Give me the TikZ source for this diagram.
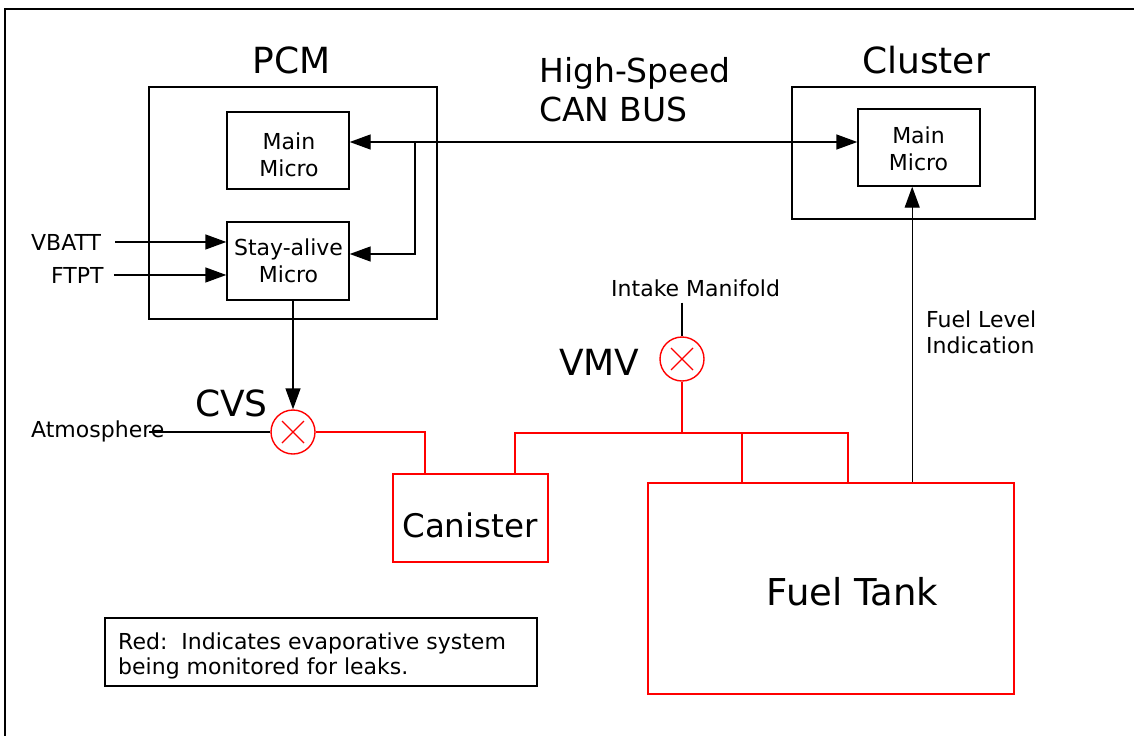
\documentclass[tikz,border=0pt]{standalone}
\usepackage{fontspec}
\setmainfont{DejaVu Sans}
\usetikzlibrary{arrows.meta,calc}
\begin{document}
\begin{tikzpicture}[x=1pt,y=-1pt,
  blk/.style={draw=black,line width=1.4pt},
  redl/.style={draw=red,line width=1.6pt},
  arr/.style={blk,-{Triangle[length=21pt,width=15pt]}},
  box/.style={draw=black,line width=1.4pt,inner sep=0pt,rectangle},
  rbox/.style={draw=red,line width=1.6pt,inner sep=0pt,rectangle},
  valve/.style={circle,draw=red,line width=1.4pt,minimum size=44pt,inner sep=0pt},
  txt/.style={inner sep=0pt,font=\fontsize{22}{27}\selectfont},
  big/.style={inner sep=0pt,font=\fontsize{36}{40}\selectfont},
]
\useasboundingbox (0,0) rectangle (1134,736);
\fill[white] (0,0) rectangle (1134,736);
\draw[line width=1.2pt] (1134,9) -- (5,9) -- (5,736);

% boxes
\node[box,minimum width=288pt,minimum height=232pt] (pcm) at (293,203) {};
\node[box,minimum width=122pt,minimum height=77pt] (pmm) at (288,150.5) {};
\node[box,minimum width=122pt,minimum height=78pt] (psm) at (288,261) {};
\node[box,minimum width=243pt,minimum height=132pt] (clu) at (913.5,153) {};
\node[box,minimum width=122pt,minimum height=77pt] (cmm) at (919,147.5) {};
\node[rbox,minimum width=155pt,minimum height=88pt] (can) at (470.5,518) {};
\node[rbox,minimum width=366pt,minimum height=211pt] (tank) at (831,588.5) {};
\node[box,line width=1.2pt,minimum width=432pt,minimum height=68pt] (leg) at (321,652) {};
\node[valve] (cvs) at (293,432) {};
\node[valve] (vmv) at (682,359) {};

% texts (multi-line nodes: base = last line)
\node[big,anchor=base] (pcmt) at (291.5,73) {PCM};
\node[big,anchor=base] (clut) at (926,73) {Cluster};
\node[inner sep=0pt,font=\fontsize{33}{39}\selectfont,align=left,anchor=base west] (hst) at (539,121) {High-Speed\\CAN BUS};
\node[txt,align=center,anchor=base] (pmmt) at (289,176) {Main\\Micro};
\node[txt,align=center,anchor=base] (psmt) at (288.5,282) {Stay-alive\\Micro};
\node[txt,align=center,anchor=base] (cmmt) at (918.5,170) {Main\\Micro};
\node[txt,anchor=base west] (vbatt) at (31,250) {VBATT};
\node[txt,anchor=base west] (ftpt) at (51,283) {FTPT};
\node[txt,anchor=base west] (atm) at (31,437) {Atmosphere};
\node[big,anchor=base west] (cvst) at (195,416) {CVS};
\node[big,anchor=base west] (vmvt) at (559,375) {VMV};
\node[txt,anchor=base west] (imt) at (611,296) {Intake Manifold};
\node[inner sep=0pt,font=\fontsize{22}{26}\selectfont,align=left,anchor=base west] (flt) at (926,353) {Fuel Level\\Indication};
\node[inner sep=0pt,font=\fontsize{32.5}{36}\selectfont,anchor=base] (cant) at (470,537) {Canister};
\node[inner sep=0pt,font=\fontsize{37}{40}\selectfont,anchor=base] (tankt) at (852.5,605) {Fuel Tank};
\node[inner sep=0pt,font=\fontsize{22}{25}\selectfont,align=left,anchor=base west] (legt) at (118,674) {Red:\ \ Indicates evaporative system\\being monitored for leaks.};

% CAN bus
\coordinate (j) at (415,142);
\coordinate (j2) at (415,254);
\draw[arr] (j) -- (j -| pmm.east);
\draw[arr] (j) -- (j -| cmm.west);
\draw[arr] (j) -- (j2) -- (j2 -| psm.east);

% inputs
\draw[arr] ([xshift=14pt]vbatt.east) -- (vbatt.east -| psm.west);
\draw[arr] ([xshift=10pt]ftpt.east) -- (ftpt.east -| psm.west);
\draw[arr] (cvs.north |- psm.south) -- (cvs.north);
\draw[blk] (cvs.west) -- ++(-121,0);
\draw[blk] ($(imt.south -| vmv.north)+(0,6)$) -- (vmv.north);

% fuel level
\coordinate (fl) at ($(tank.north west)+(265,0)$);
\draw[arr] (fl) -- (fl |- cmm.south);

% red plumbing
\draw[redl] (cvs.east) -| ($(can.north west)+(33,0)$);
\coordinate (mL) at (515,433);
\coordinate (mR) at (848,433);
\coordinate (mT) at (742,433);
\draw[redl] (mL |- can.north) -- (mL) -- (mR) -- (mR |- tank.north);
\draw[redl] (mT) -- (mT |- tank.north);
\draw[redl] (vmv.south) -- (vmv.south |- mL);

% crosses
\foreach \v in {cvs,vmv} {
  \draw[red,line width=1.2pt] ($(\v)+(-11,-11)$) -- ($(\v)+(11,11)$)
    ($(\v)+(-11,11)$) -- ($(\v)+(11,-11)$);
}
\end{tikzpicture}
\end{document}
